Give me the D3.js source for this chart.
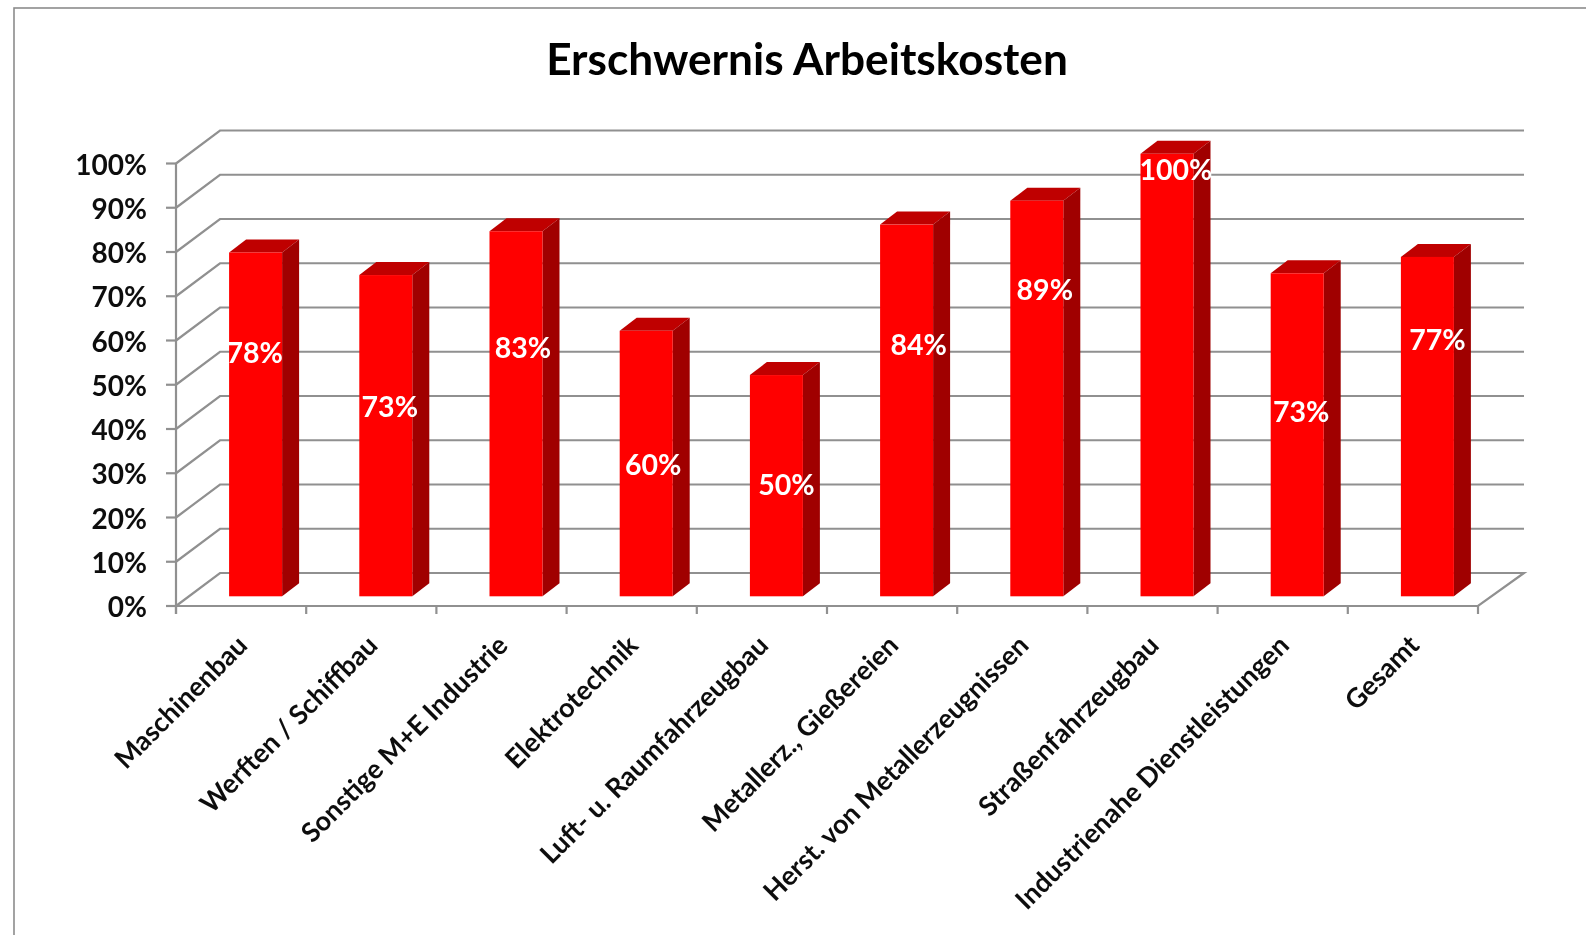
<!DOCTYPE html>
<html><head><meta charset="utf-8">
<script src="https://cdnjs.cloudflare.com/ajax/libs/d3/7.8.5/d3.min.js"></script>
<style>html,body{margin:0;padding:0;background:#fff;overflow:hidden}svg{display:block}text{font-family:Lato,"Open Sans",sans-serif;font-weight:700}</style>
</head><body><svg id="c" width="1586" height="935"></svg>
<script>
const categories=["Maschinenbau","Werften / Schiffbau","Sonstige M+E Industrie","Elektrotechnik","Luft- u. Raumfahrzeugbau","Metallerz., Gießereien","Herst. von Metallerzeugnissen","Straßenfahrzeugbau","Industrienahe Dienstleistungen","Gesamt"];
const values=[77.7,72.6,82.5,60,50,84,89.4,100,73,76.7];
const labels=["78%","73%","83%","60%","50%","84%","89%","100%","73%","77%"];
// manual label placement in the source: height in axis percent, sideways shift in px
const labelLevels=[56.6,44.4,57.75,31.2,26.8,58.45,70.8,98,43.2,59.6];
const labelShift=[-1,4,7,7,10,12,8,9,4,10];
const ticks=d3.range(0,101,10);

const svg=d3.select("#c");
const defs=svg.append("defs");
defs.append("filter").attr("id","soft")
  .attr("filterUnits","userSpaceOnUse").attr("x",0).attr("y",0).attr("width",1586).attr("height",935)
  .append("feGaussianBlur").attr("stdDeviation",0.55);
const root=svg.append("g").attr("filter","url(#soft)");
const grey="#909090";
const x=d3.scaleBand().domain(categories).range([176,1478]);
const y=d3.scaleLinear().domain([0,100]).range([606,163.5]);
const depth={dx:46,dy:-33};
const bar={w:53,dx:-12,dy:-9.7,sx:17,sy:-13};

root.append("rect").attr("x",14).attr("y",8).attr("width",1620).attr("height",1000).attr("fill","#fff").attr("stroke","#8c8c8c").attr("stroke-width",1.6);

root.append("text").attr("x",807).attr("y",75).attr("text-anchor","middle").attr("font-size",44.2).attr("fill","#000").text("Erschwernis Arbeitskosten");

// walls & gridlines
const g=root.append("g").attr("fill","none").attr("stroke",grey).attr("stroke-width",2.2);
const line=d3.line();
ticks.forEach(t=>{
  if(t>0) g.append("path").attr("d",line([[x.range()[0],y(t)],[x.range()[0]+44,y(t)+depth.dy],[x.range()[1]+depth.dx,y(t)+depth.dy]]));
  g.append("path").attr("d",line([[166,y(t)],[176,y(t)]]));
});
g.append("path").attr("d",line([[176,y(100)],[176,614]]));
g.append("path").attr("d",line([[176,y(0)],[220,y(0)+depth.dy],[1524,y(0)+depth.dy],[1478,y(0)],[176,y(0)]]));
[...categories.map(c=>x(c)),1478].forEach(px=>g.append("path").attr("d",line([[px,606],[px,614]])));

// y tick labels
root.append("g").selectAll("text").data(ticks).join("text")
 .attr("x",147).attr("y",t=>y(t)+11).attr("text-anchor","end").attr("font-size",28).attr("fill","#111").text(t=>t+"%");

// bars
const bars=root.append("g").selectAll("g").data(categories).join("g");
const left=(c)=>x(c)+x.bandwidth()/2+bar.dx;
const top_=(i)=>y(values[i])+bar.dy;
const bot=y(0)+bar.dy;
bars.append("path").attr("fill","#bf0000").attr("d",(c,i)=>{const l=left(c),t=top_(i);return line([[l,t],[l+bar.sx,t+bar.sy],[l+bar.w+bar.sx,t+bar.sy],[l+bar.w,t]])+"Z";});
bars.append("path").attr("fill","#a00000").attr("d",(c,i)=>{const l=left(c)+bar.w,t=top_(i);return line([[l,t],[l+bar.sx,t+bar.sy],[l+bar.sx,bot+bar.sy],[l,bot]])+"Z";});
bars.append("rect").attr("fill","#ff0000").attr("x",left).attr("y",(c,i)=>top_(i)).attr("width",bar.w).attr("height",(c,i)=>bot-top_(i));

// data labels
root.append("g").selectAll("text").data(categories).join("text")
 .attr("x",(c,i)=>left(c)+bar.w/2+labelShift[i]).attr("y",(c,i)=>y(labelLevels[i]))
 .attr("text-anchor","middle").attr("dominant-baseline","middle").attr("font-size",28.5).attr("fill","#fff").text((c,i)=>labels[i]);

// category labels
root.append("g").selectAll("text").data(categories).join("text")
 .attr("transform",c=>`translate(${x(c)+x.bandwidth()/2+8},${647}) rotate(-45)`)
 .attr("text-anchor","end").attr("font-size",26.9).attr("fill","#111").text(c=>c);
</script></body></html>
